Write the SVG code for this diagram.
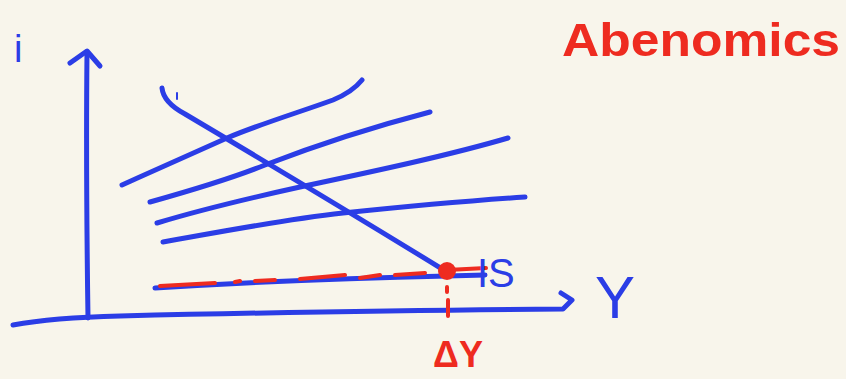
<svg xmlns="http://www.w3.org/2000/svg" width="846" height="379" viewBox="0 0 846 379">
<style>
.b{fill:none;stroke:#2b3de6;stroke-width:5;stroke-linecap:round;stroke-linejoin:round}
.r{fill:none;stroke:#ee2b20;stroke-width:5;stroke-linecap:round;stroke-linejoin:round}
.tb{fill:#2b3de6;font-family:"Liberation Sans",Arial,sans-serif}
.tr{fill:#ee2b20;font-family:"Liberation Sans",Arial,sans-serif;font-weight:bold}
</style>
<rect width="846" height="379" fill="#f8f5eb"/>
<g id="axes">
<path class="b" d="M88,318 C87,250 86,150 87,52"/>
<path class="b" d="M70,63 L87,51 L100,66"/>
<path class="b" d="M13,325 C40,320 80,317 120,316 C250,313 400,310 563,309 L572,300 L561,293"/>
</g>
<g id="curves">
<path class="b" d="M122,185 C160,168 200,150 227,138 C260,124 300,112 333,100 C345,95 354,90 362,80"/>
<path class="b" d="M150,202 C200,188 240,175 265,165 C330,140 380,125 430,112"/>
<path class="b" d="M157,223 C200,210 250,198 300,187 C380,170 450,155 508,138"/>
<path class="b" d="M163,242 C220,232 280,220 343,213 C420,205 480,200 525,197"/>
<path class="b" d="M162,88 C163,98 170,106 185,114 Q330,200 447,272"/>
<path class="b" d="M177,93 L177,99" style="stroke-width:2"/>
<path class="b" d="M155,288 C250,282 350,278 447,276 L485,275"/>
</g>
<g id="lm-red">
<path class="r" d="M160,286 L215,283 M235,282 L240,281 M255,281 L275,280 M300,279 L345,275 M360,278 L380,275 M395,275 L425,273" style="stroke-width:4"/>
<path class="r" d="M447,270 L486,268" style="stroke-width:4"/>
<circle cx="447" cy="271" r="9" fill="#ee2b20"/>
<path class="r" d="M447,287 L447,292 M448,300 L448,316" style="stroke-width:4"/>
</g>
<g id="labels">
<text class="tb" x="14" y="62" font-size="38">i</text>
<text class="tb" x="477" y="287" font-size="40">IS</text>
<text class="tb" x="595" y="318" font-size="60">Y</text>
<text class="tr" x="433" y="367" font-size="36">ΔY</text>
<text class="tr" x="562" y="56" font-size="46" textLength="278" lengthAdjust="spacingAndGlyphs">Abenomics</text>
</g>
</svg>
